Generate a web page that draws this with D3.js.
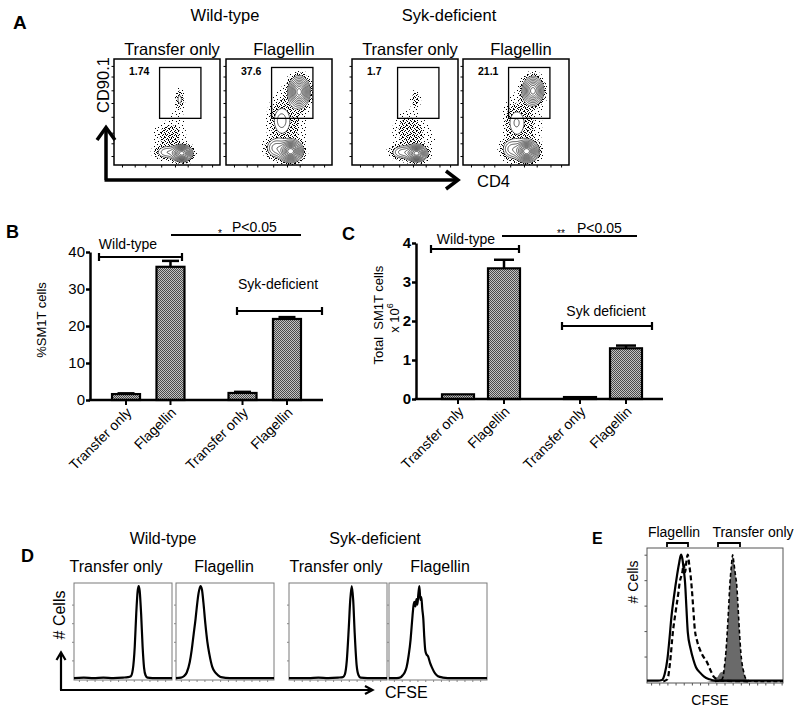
<!DOCTYPE html>
<html><head><meta charset="utf-8">
<script src="https://cdn.jsdelivr.net/npm/d3@7"></script>
<style>
body{margin:0;background:#fff;}
svg{display:block;font-family:"Liberation Sans",Arial,Helvetica,sans-serif;}
</style></head><body>
<svg id="fig" width="800" height="713"></svg>
<script>
// ================= DATA =================
const groups = ["Wild-type", "Syk-deficient"];
const groupsC = ["Wild-type", "Syk deficient"];
const treatments = ["Transfer only", "Flagellin"];
const gatePercents = ["1.74", "37.6", "1.7", "21.1"];
const gateCD4 = [0.43, 0.82];
const gateCD90 = [0.44, 0.92];
// flow populations: [CD4 (0-1), CD90.1 (0-1), spread CD4, spread CD90.1, relative density]
const flowWTTransfer = [[0.64,0.11,0.045,0.035,1.0],[0.50,0.12,0.06,0.035,0.15],[0.52,0.28,0.08,0.07,0.04],[0.62,0.62,0.022,0.05,0.075],[0.60,0.45,0.05,0.1,0.01]];
const flowWTFlagellin = [[0.69,0.69,0.045,0.065,1.0],[0.61,0.13,0.05,0.045,1.2],[0.47,0.16,0.05,0.05,0.2],[0.52,0.42,0.05,0.08,0.1],[0.58,0.40,0.10,0.18,0.035]];
const flowSykTransfer = [[0.61,0.11,0.045,0.035,1.0],[0.48,0.12,0.06,0.035,0.2],[0.54,0.32,0.08,0.10,0.045],[0.60,0.62,0.025,0.045,0.05],[0.70,0.25,0.08,0.08,0.01]];
const flowSykFlagellin = [[0.66,0.70,0.045,0.06,0.85],[0.60,0.13,0.05,0.045,1.2],[0.46,0.15,0.05,0.05,0.2],[0.50,0.40,0.05,0.08,0.08],[0.56,0.38,0.10,0.17,0.035]];
const contourLevels = [0.06,0.1,0.16,0.24,0.34,0.46,0.6,0.75,0.9,1.05];
const dotLevels = [0.006, 0.02];

const pctMean = [1.6, 36.0, 1.9, 21.9];
const pctErr = [0.2, 1.6, 0.3, 0.5];
const pctTicks = [0, 10, 20, 30, 40];
const totalMean = [0.12, 3.35, 0.05, 1.30];
const totalErr = [0.0, 0.22, 0.0, 0.07];
const totalTicks = [0, 1, 2, 3, 4];

// CFSE histograms: [CFSE (0-100), % of max]
const histWTTransfer = [[0,1],[10,1.5],[20,1],[30,1.5],[40,1],[50,1.5],[55,2],[58,3],[60,10],[62,35],[63.5,70],[65,95],[66,100],[67,95],[68.5,70],[70,35],[71.5,12],[73,4],[75,1.5],[80,1],[90,1],[100,1]];
const histWTFlagellin = [[0,1],[5,1.5],[8,3],[11,7],[14,18],[16,31],[18,48],[20,65],[21,75],[23,92],[25,100],[26.5,96],[28,82],[30,59],[32,40],[34,27],[37,13],[40,7],[43,4],[46,2],[55,1],[70,1],[100,1]];
const histSykTransfer = [[0,1],[20,1],[30,1.5],[40,1],[50,1.5],[55,2],[57,5],[59,20],[61,55],[62.5,85],[64,100],[65.5,85],[67,50],[69,15],[71,4],[73,1.5],[80,1],[100,1]];
const histSykFlagellin = [[0,1],[8,1],[12,2],[14,4],[16,7],[18,13],[20,25],[22,42],[23,55],[24,68],[25,79],[26,83],[27,78],[28,86],[29,80],[30,92],[31,100],[32,85],[33,88],[34,75],[35,65],[36,45],[37,31],[38,27],[40,24],[42,17],[44,12],[47,6],[50,3],[55,1.5],[60,1],[100,1]];
const histEFlagellinA = [[0,1],[8,1],[11,1.5],[13,6],[15,17],[16.5,32],[18,49],[20,65],[22,79],[23.5,88],[25,95],[26,92],[27,84],[28,74],[29,55],[30,37],[32,25],[34,17],[36,11],[39,7],[42,4],[46,2],[50,1],[60,1],[100,1]];
const histEFlagellinB = [[12,0.5],[15,2],[17,15],[19,37],[21,52],[23,66],[24,74],[26,82],[27,88],[28,82],[29,90],[30,95],[31,88],[32,80],[33,69],[34,55],[35,41],[37,30],[39,24],[42,18],[44,15],[47,8],[49,4],[52,2],[55,1],[75,0.5]];
const histETransferFill = [[44,0],[48,1],[50,2],[52,4],[54,7],[56,8],[57,12],[58,22],[59,37],[60,55],[61,74],[62,86],[63,95],[64,88],[65,80],[66,72],[67,55],[68,37],[69,22],[70,13],[71,8],[72,4],[73,2],[75,1],[80,0]];
const histETransferLine = [[50,0.5],[54,1],[56,4],[57,12],[58,22],[59,37],[60,55],[61,74],[62,86],[63,95],[64,88],[65,80],[66,72],[67,55],[68,37],[69,22],[70,13],[71,8],[72,4],[73,2],[75,1],[80,0.5],[100,0.5]];

// ================= DRAWING =================
const svg = d3.select("#fig");
const FONT = "'Liberation Sans', Arial, Helvetica, sans-serif";
const defs = svg.append("defs");

const hp = defs.append("pattern").attr("id","hatch").attr("width",2).attr("height",2).attr("patternUnits","userSpaceOnUse");
hp.append("rect").attr("width",2).attr("height",2).attr("fill","#c4c4c4");
hp.append("rect").attr("x",0).attr("y",0).attr("width",1).attr("height",1).attr("fill","#4a4a4a");
hp.append("rect").attr("x",1).attr("y",1).attr("width",1).attr("height",1).attr("fill","#4a4a4a");
const ds = defs.append("pattern").attr("id","dotsSparse").attr("width",7).attr("height",7).attr("patternUnits","userSpaceOnUse");
[[1,1],[5,3],[2,5],[6,6]].forEach(p=>ds.append("rect").attr("x",p[0]).attr("y",p[1]).attr("width",1).attr("height",1).attr("fill","#000"));
const dd = defs.append("pattern").attr("id","dotsDense").attr("width",4).attr("height",4).attr("patternUnits","userSpaceOnUse");
[[0,0],[2,1],[1,3],[3,2]].forEach(p=>dd.append("rect").attr("x",p[0]).attr("y",p[1]).attr("width",1).attr("height",1).attr("fill","#000"));

function txt(x, y, s, o = {}) {
  const t = svg.append("text").attr("x", x).attr("y", y).text(s)
    .attr("font-size", o.size || 16).attr("text-anchor", o.anchor || "middle")
    .attr("fill", "#000");
  if (o.bold) t.attr("font-weight", "bold");
  if (o.dy) t.attr("dy", o.dy);
  if (o.rotate != null) t.attr("transform", `rotate(${o.rotate},${x},${y})`);
  if (o.pre) t.style("white-space", "pre");
  return t;
}
function arrowHead(pts, w) {
  svg.append("path").attr("d", d3.line()(pts)).attr("fill","none").attr("stroke","#000")
    .attr("stroke-width", w).attr("stroke-linejoin","miter").attr("stroke-linecap","butt");
}

// ---------- Panel A ----------
txt(13, 29, "A", {size: 19, bold: true, anchor: "start"});
txt(225, 21, "Wild-type", {size: 16.5});
txt(449, 21, "Syk-deficient", {size: 16.5});
const flowLeft = [114, 226, 352, 463];
const flowTop = 59, flowSize = 106;
const flowSets = [flowWTTransfer, flowWTFlagellin, flowSykTransfer, flowSykFlagellin];
const flowTitles = ["Transfer only", "Flagellin", "Transfer only", "Flagellin"];

flowSets.forEach((pops, k) => {
  const left = flowLeft[k], n = flowSize;
  const xs = d3.scaleLinear([0, 1], [0, n]);
  const ys = d3.scaleLinear([0, 1], [n, 0]);
  const vals = new Float64Array(n * n);
  for (let j = 0; j < n; j++) for (let i = 0; i < n; i++) {
    const x = xs.invert(i + 0.5), y = ys.invert(j + 0.5);
    let v = 0;
    for (const [cx, cy, sx, sy, w] of pops) {
      const dx = (x - cx) / sx, dy = (y - cy) / sy;
      v += w * Math.exp(-0.5 * (dx * dx + dy * dy));
    }
    vals[j * n + i] = v;
  }
  const g = svg.append("g").attr("transform", `translate(${left},${flowTop})`);
  const path = d3.geoPath();
  const dots = d3.contours().size([n, n]).thresholds(dotLevels)(vals);
  g.selectAll("path.dots").data(dots).join("path").attr("class","dots")
    .attr("d", path).attr("fill", (d, i) => i === 0 ? "url(#dotsSparse)" : "url(#dotsDense)");
  const cts = d3.contours().size([n, n]).thresholds(contourLevels)(vals);
  g.append("path").attr("d", path(cts[0])).attr("fill", "#fff");
  g.selectAll("path.ct").data(cts).join("path").attr("class","ct")
    .attr("d", path).attr("fill", "none").attr("stroke", "#000").attr("stroke-width", 0.65);
  g.append("rect").attr("x", xs(gateCD4[0])).attr("y", ys(gateCD90[1]))
    .attr("width", xs(gateCD4[1]) - xs(gateCD4[0])).attr("height", ys(gateCD90[0]) - ys(gateCD90[1]))
    .attr("fill", "none").attr("stroke", "#000").attr("stroke-width", 1.3);
  g.append("rect").attr("x", 0).attr("y", 0).attr("width", n).attr("height", n)
    .attr("fill", "none").attr("stroke", "#000").attr("stroke-width", 1.5);
  const tks = [0.08, 0.2, 0.3, 0.45, 0.58, 0.7, 0.83, 0.93];
  g.selectAll("line.ty").data(tks).join("line").attr("x1", -2.5).attr("x2", 0)
    .attr("y1", d => ys(d)).attr("y2", d => ys(d)).attr("stroke", "#000").attr("stroke-width", 1);
  g.selectAll("line.tx").data(tks).join("line").attr("y1", n).attr("y2", n + 2.5)
    .attr("x1", d => xs(d)).attr("x2", d => xs(d)).attr("stroke", "#000").attr("stroke-width", 1);
  txt(left + 15, flowTop + 16, gatePercents[k], {size: 10.5, bold: true, anchor: "start"});
  txt(left + n / 2 + 5, 55, flowTitles[k], {size: 16.5});
});
txt(103, 85, "CD90.1", {size: 16.5, rotate: -90, dy: "0.35em"});
svg.append("path").attr("d", "M106,180V129M104.5,180H456").attr("stroke","#000").attr("stroke-width",3.5).attr("fill","none");
arrowHead([[97,140],[106,127.5],[115,140]], 3.5);
arrowHead([[446,171],[458,180],[446,189]], 3.5);
txt(477, 187, "CD4", {size: 16.5, anchor: "start"});

// ---------- Panels B & C ----------
function barPanel(c) {
  const y = d3.scaleLinear([c.ticks[0], c.ticks[c.ticks.length - 1]], [c.y0, c.yTop]);
  const outer = d3.scaleBand().domain(groups).range(c.outerRange);
  const inner = d3.scalePoint().domain(treatments).range([0, outer.bandwidth()]).padding(c.innerPad);
  const rows = groups.flatMap((gr, gi) => treatments.map((t, ti) => ({g: gr, t, v: c.means[gi * 2 + ti], e: c.errs[gi * 2 + ti]})));
  const cx = d => outer(d.g) + inner(d.t);
  const g = svg.append("g");
  g.selectAll("rect.bar").data(rows).join("rect").attr("class","bar")
    .attr("x", d => cx(d) - c.bw / 2).attr("y", d => y(d.v))
    .attr("width", c.bw).attr("height", d => y(0) - y(d.v))
    .attr("fill", "url(#hatch)").attr("stroke", "#000").attr("stroke-width", 2.2);
  const eb = rows.filter(d => d.e > 0);
  g.selectAll("line.err").data(eb).join("line").attr("class","err")
    .attr("x1", cx).attr("x2", cx).attr("y1", d => y(d.v)).attr("y2", d => y(d.v + d.e))
    .attr("stroke", "#000").attr("stroke-width", 2.5);
  g.selectAll("line.cap").data(eb).join("line").attr("class","cap")
    .attr("x1", d => cx(d) - c.cap / 2).attr("x2", d => cx(d) + c.cap / 2)
    .attr("y1", d => y(d.v + d.e)).attr("y2", d => y(d.v + d.e))
    .attr("stroke", "#000").attr("stroke-width", 2.5);
  const ya = svg.append("g").attr("transform", `translate(${c.axisX},0)`)
    .call(d3.axisLeft(y).tickValues(c.ticks).tickFormat(d3.format("d")).tickSize(4).tickSizeOuter(0).tickPadding(1));
  ya.attr("font-family", FONT).attr("font-size", 15).attr("font-weight", c.boldTicks ? "bold" : null);
  ya.select(".domain").attr("stroke-width", 2.5);
  ya.selectAll(".tick line").attr("stroke-width", 2.5);
  ya.selectAll(".tick text").attr("fill", "#000");
  svg.append("line").attr("x1", c.axisX - 1.25).attr("x2", c.axisEnd).attr("y1", y(0)).attr("y2", y(0))
    .attr("stroke", "#000").attr("stroke-width", 2.5);
  g.selectAll("line.xt").data(rows).join("line").attr("class","xt")
    .attr("x1", cx).attr("x2", cx).attr("y1", y(0)).attr("y2", y(0) + 5)
    .attr("stroke", "#000").attr("stroke-width", 2);
  rows.forEach(d => txt(cx(d) + 3, y(0) + 10, d.t, {size: 14, anchor: "end", rotate: -45, dy: "0.35em"}));
  c.brackets.forEach(b => {
    svg.append("path").attr("d", `M${b[0]},${b[2]}H${b[1]}M${b[0]},${b[2]-4}V${b[2]+4}M${b[1]},${b[2]-4}V${b[2]+4}`)
      .attr("stroke", "#000").attr("stroke-width", 2.2).attr("fill", "none");
  });
  svg.append("line").attr("x1", c.sig[0]).attr("x2", c.sig[1]).attr("y1", c.sig[2]).attr("y2", c.sig[2])
    .attr("stroke", "#000").attr("stroke-width", 2);
}

txt(6, 238, "B", {size: 18, bold: true, anchor: "start"});
barPanel({ticks: pctTicks, y0: 400, yTop: 252, outerRange: [90, 323], innerPad: 0.81, bw: 28, cap: 17,
  means: pctMean, errs: pctErr, axisX: 90, axisEnd: 323, boldTicks: false,
  brackets: [[99, 182, 257], [237, 322, 311]], sig: [171, 301, 235]});
txt(41, 320, "%SM1T cells", {size: 13, rotate: -90, dy: "0.35em"});
txt(128, 249, groups[0], {size: 14});
txt(278, 289, groups[1], {size: 14});
txt(220, 237, "*", {size: 10});
txt(232, 232, "P<0.05", {size: 14, anchor: "start"});

txt(342, 240, "C", {size: 18, bold: true, anchor: "start"});
barPanel({ticks: totalTicks, y0: 399, yTop: 243, outerRange: [420, 664], innerPad: 0.826, bw: 32, cap: 20,
  means: totalMean, errs: totalErr, axisX: 416, axisEnd: 663, boldTicks: true,
  brackets: [[431, 519, 249], [562, 652, 326]], sig: [502, 637, 236]});
txt(378, 315, "Total  SM1T cells", {size: 13, rotate: -90, dy: "0.35em", pre: true});
const xt = txt(394, 318, "x 10", {size: 13, rotate: -90, dy: "0.35em"});
xt.append("tspan").attr("font-size", 9).attr("dy", "-0.6em").text("6");
txt(466, 244, groupsC[0], {size: 14});
txt(606, 316, groupsC[1], {size: 14});
txt(561, 237, "**", {size: 10});
txt(577, 233, "P<0.05", {size: 14, anchor: "start"});

// ---------- Panel D ----------
txt(21, 562, "D", {size: 18, bold: true, anchor: "start"});
txt(163, 544, groups[0], {size: 16});
txt(375, 544, groups[1], {size: 16});
const histLeft = [74, 176, 289, 389];
const histTop = 583, histW = 98, histH = 97;
const histSets = [histWTTransfer, histWTFlagellin, histSykTransfer, histSykFlagellin];
histSets.forEach((h, k) => {
  const x = d3.scaleLinear([0, 100], [histLeft[k], histLeft[k] + histW]);
  const y = d3.scaleLinear([0, 100], [histTop + histH - 1, histTop + 3]);
  svg.append("rect").attr("x", histLeft[k]).attr("y", histTop).attr("width", histW).attr("height", histH)
    .attr("fill", "none").attr("stroke", "#7a7a7a").attr("stroke-width", 1);
  const ay = svg.append("g").attr("transform", `translate(${histLeft[k]},0)`)
    .call(d3.axisLeft(y).tickValues([20, 40, 60, 80]).tickSize(2).tickFormat(""));
  ay.select(".domain").remove(); ay.selectAll("line").attr("stroke", "#888");
  const ax = svg.append("g").attr("transform", `translate(0,${histTop + histH})`)
    .call(d3.axisBottom(x).tickValues(d3.range(5, 100, 8)).tickSize(2).tickFormat(""));
  ax.select(".domain").remove(); ax.selectAll("line").attr("stroke", "#888");
  svg.append("path").datum(h).attr("d", d3.line().x(d => x(d[0])).y(d => y(d[1])).curve(d3.curveMonotoneX))
    .attr("fill", "none").attr("stroke", "#000").attr("stroke-width", 2.2).attr("stroke-linejoin", "round");
  txt(histLeft[k] + histW / 2 + [-7, -1, -2, 2][k], 572, treatments[k % 2], {size: 16});
});
txt(59, 615, "# Cells", {size: 16, rotate: -90, dy: "0.35em"});
svg.append("path").attr("d", "M61,690V654M60,690H371").attr("stroke", "#000").attr("stroke-width", 2.2).attr("fill", "none");
arrowHead([[56.5,660],[61,652.5],[65.5,660]], 2.2);
arrowHead([[365,686],[372.5,690],[365,694]], 2.2);
txt(385, 698, "CFSE", {size: 16, anchor: "start"});

// ---------- Panel E ----------
txt(592, 544, "E", {size: 16, bold: true, anchor: "start"});
const eL = 647, eR = 783, eT = 548, eB = 683;
const ex = d3.scaleLinear([0, 100], [eL, eR]);
const ey = d3.scaleLinear([0, 100], [eB - 1, eT]);
svg.append("rect").attr("x", eL).attr("y", eT).attr("width", eR - eL).attr("height", eB - eT)
  .attr("fill", "none").attr("stroke", "#555").attr("stroke-width", 1);
const eay = svg.append("g").attr("transform", `translate(${eL},0)`)
  .call(d3.axisLeft(ey).tickValues([19, 38, 57, 76, 95]).tickSize(2.5).tickFormat(""));
eay.select(".domain").remove(); eay.selectAll("line").attr("stroke", "#555");
const eax = svg.append("g").attr("transform", `translate(0,${eB})`)
  .call(d3.axisBottom(ex).tickValues(d3.range(3, 100, 6)).tickSize(2.5).tickFormat(""));
eax.select(".domain").remove(); eax.selectAll("line").attr("stroke", "#555");
const eLine = d3.line().x(d => ex(d[0])).y(d => ey(d[1])).curve(d3.curveMonotoneX);
const eArea = d3.area().x(d => ex(d[0])).y0(ey(0)).y1(d => ey(d[1])).curve(d3.curveMonotoneX);
svg.append("path").datum(histETransferFill).attr("d", eArea).attr("fill", "#6a6a6a");
svg.append("path").datum(histETransferLine).attr("d", eLine).attr("fill", "none")
  .attr("stroke", "#000").attr("stroke-width", 1.6).attr("stroke-dasharray", "4,2.5");
svg.append("path").datum(histEFlagellinA).attr("d", eLine).attr("fill", "none")
  .attr("stroke", "#000").attr("stroke-width", 2.2);
svg.append("path").datum(histEFlagellinB).attr("d", eLine).attr("fill", "none")
  .attr("stroke", "#000").attr("stroke-width", 2.2).attr("stroke-dasharray", "5,3");
txt(674, 537, treatments[1], {size: 14});
txt(753, 537, treatments[0], {size: 14});
[[667, 688], [718, 740]].forEach(b => svg.append("path")
  .attr("d", `M${b[0]},547V543H${b[1]}V547`).attr("fill", "none").attr("stroke", "#000").attr("stroke-width", 1.8));
txt(633, 582, "# Cells", {size: 14, rotate: -90, dy: "0.35em"});
txt(710, 705, "CFSE", {size: 14});
</script>
</body></html>
